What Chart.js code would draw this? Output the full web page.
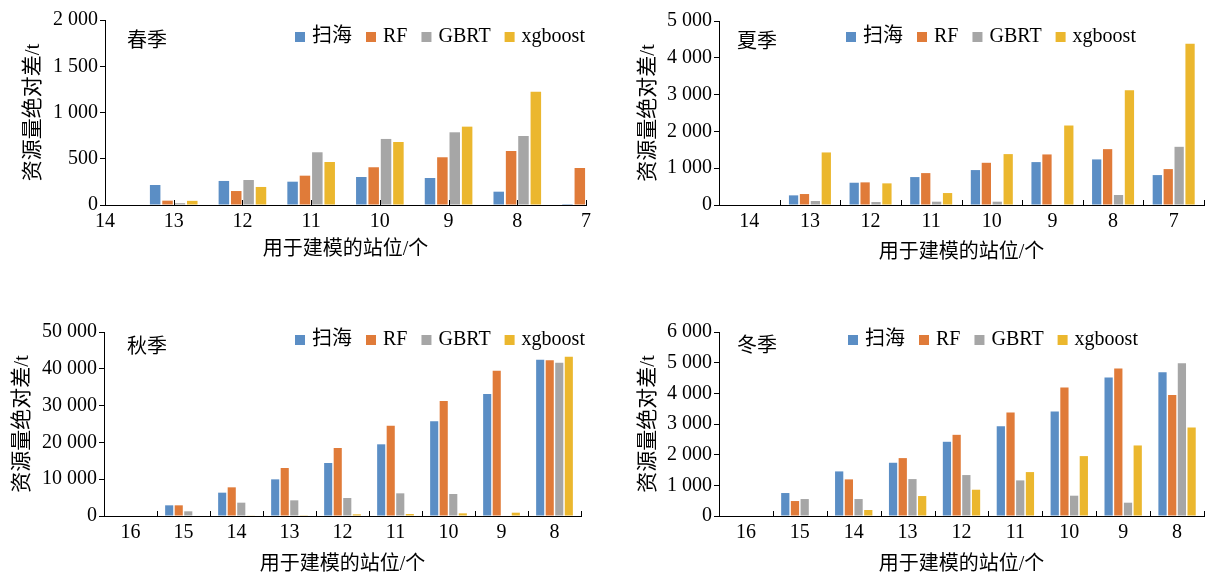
<!DOCTYPE html>
<html>
<head>
<meta charset="utf-8">
<script src="https://cdn.jsdelivr.net/npm/chart.js@4.4.0/dist/chart.umd.min.js"></script>
<style>
body { margin: 0; background: #fff; overflow: hidden; width: 1209px; height: 579px; position: relative; }
canvas { position: absolute; }
</style>
</head>
<body>
<canvas id="cSpring" style="left:0;top:0"></canvas>
<canvas id="cSummer" style="left:610px;top:0"></canvas>
<canvas id="cAutumn" style="left:0;top:310px"></canvas>
<canvas id="cWinter" style="left:610px;top:310px"></canvas>
<script>
// series names + colours
var seriesNames = ['扫海', 'RF', 'GBRT', 'xgboost'];
var colores = ['#5b8ec5', '#e07b39', '#a6a6a6', '#ebb72e'];

// 春季
var springLabels = ['14', '13', '12', '11', '10', '9', '8', '7'];
var springSaohai = [0, 216, 260, 252, 303, 292, 144, 10];
var springRF = [0, 47, 151, 317, 408, 516, 584, 400];
var springGBRT = [0, 20, 270, 570, 714, 786, 746, null];
var springXgb = [0, 45, 195, 465, 681, 847, 1225, null];

// 夏季
var summerLabels = ['14', '13', '12', '11', '10', '9', '8', '7'];
var summerSaohai = [0, 262, 605, 759, 949, 1166, 1239, 813];
var summerRF = [0, 298, 615, 867, 1147, 1374, 1518, 976];
var summerGBRT = [0, 108, 80, 90, 90, 0, 271, 1581];
var summerXgb = [0, 1428, 588, 325, 1383, 2160, 3118, 4383];

// 秋季
var autumnLabels = ['16', '15', '14', '13', '12', '11', '10', '9', '8'];
var autumnSaohai = [0, 2900, 6340, 9960, 14400, 19480, 25720, 33150, 42470];
var autumnRF = [0, 2900, 7790, 13040, 18480, 24540, 31250, 39480, 42300];
var autumnGBRT = [0, 1270, 3620, 4260, 4890, 6160, 5980, 0, 41660];
var autumnXgb = [0, 0, 100, 200, 460, 540, 720, 900, 43290];

// 冬季
var winterLabels = ['16', '15', '14', '13', '12', '11', '10', '9', '8'];
var winterSaohai = [0, 749, 1454, 1736, 2420, 2930, 3407, 4514, 4687];
var winterRF = [0, 488, 1194, 1888, 2647, 3375, 4189, 4807, 3949];
var winterGBRT = [0, 553, 553, 1204, 1335, 1161, 662, 434, 4980];
var winterXgb = [0, 0, 195, 651, 857, 1432, 1953, 2300, 2887];

var fuenteSerif = '"Liberation Serif", "Noto Sans CJK SC", serif';

// inward x ticks, legend and season label
var extras = {
    id: 'extras',
    afterDraw: function(chart) {
        var o = chart.options.plugins.extras;
        var ctx = chart.ctx, a = chart.chartArea, xs = chart.scales.x;
        var n = xs.getLabels().length;
        ctx.save();
        ctx.strokeStyle = '#000';
        ctx.lineWidth = 1;
        ctx.beginPath();
        var cuantos = o.offset ? n + 1 : n;
        for (var i = 0; i < cuantos; i++) {
            var v = o.offset ? i - 0.5 : i;
            var px = Math.round(xs.getPixelForValue(v)) + 0.5;
            ctx.moveTo(px, a.bottom);
            ctx.lineTo(px, a.bottom - 5);
        }
        ctx.stroke();

        ctx.font = '20px ' + fuenteSerif;
        ctx.textBaseline = 'middle';
        ctx.textAlign = 'left';
        var x = a.left + o.legendX, y = a.top + o.legendY;
        chart.data.datasets.forEach(function(ds) {
            ctx.fillStyle = ds.backgroundColor;
            ctx.fillRect(x, y - 5, 10, 10);
            x += 10 + 7;
            ctx.fillStyle = '#000';
            ctx.fillText(ds.label, x, y);
            x += ctx.measureText(ds.label).width + 14;
        });
        ctx.fillText(o.season, a.left + o.seasonX, a.top + o.seasonY);
        ctx.restore();
    }
};

function formato(v) {
    return String(v).replace(/\B(?=(\d{3})+(?!\d))/g, ' ');
}

function graficar(id, labels, valores, cfg) {
    var canvas = document.getElementById(id);
    canvas.width = cfg.w;
    canvas.height = cfg.h;
    var datasets = [];
    for (var i = 0; i < valores.length; i++) {
        datasets.push({
            label: seriesNames[i],
            data: valores[i],
            backgroundColor: colores[i],
            categoryPercentage: 0.72,
            barPercentage: 0.85,
            clip: 0
        });
    }
    return new Chart(canvas.getContext('2d'), {
        type: 'bar',
        data: { labels: labels, datasets: datasets },
        options: {
            responsive: false,
            animation: false,
            layout: { padding: { top: cfg.padTop, right: cfg.padRight, left: 0, bottom: 0 } },
            plugins: {
                legend: { display: false },
                tooltip: { enabled: false },
                extras: cfg.extras
            },
            scales: {
                x: {
                    offset: cfg.extras.offset,
                    grid: { display: false, drawTicks: false, offset: cfg.extras.offset },
                    border: { display: true, color: '#000', width: 1 },
                    ticks: { color: '#000', padding: 5, maxRotation: 0, autoSkip: false, font: { family: fuenteSerif, size: 20 } },
                    title: { display: true, text: '用于建模的站位/个', color: '#000', font: { family: fuenteSerif, size: 20 }, padding: { top: 0, bottom: cfg.xTitlePad } },
                    afterFit: function(s) { s.height = cfg.xHeight; }
                },
                y: {
                    min: 0,
                    max: cfg.max,
                    grid: { drawOnChartArea: false, drawTicks: true, tickLength: 5, color: '#000' },
                    border: { display: true, color: '#000', width: 1 },
                    ticks: { stepSize: cfg.step, color: '#000', padding: 2, font: { family: fuenteSerif, size: 20 }, callback: function(v) { return formato(v); } },
                    title: { display: true, text: '资源量绝对差/t', color: '#000', font: { family: fuenteSerif, size: 21 }, padding: { top: cfg.yTitlePad, bottom: 0 } },
                    afterFit: function(s) { s.width = cfg.yWidth; }
                }
            }
        },
        plugins: [extras]
    });
}

graficar('cSpring', springLabels, [springSaohai, springRF, springGBRT, springXgb], {
    w: 600, h: 270, padTop: 20, padRight: 14, yWidth: 105, xHeight: 65, max: 2000, step: 500,
    yTitlePad: 21, xTitlePad: 8,
    extras: { offset: false, legendX: 190, legendY: 17, season: '春季', seasonX: 22, seasonY: 22 }
});
graficar('cSummer', summerLabels, [summerSaohai, summerRF, summerGBRT, summerXgb], {
    w: 599, h: 270, padTop: 21, padRight: 5, yWidth: 109, xHeight: 65, max: 5000, step: 1000,
    yTitlePad: 26, xTitlePad: 5,
    extras: { offset: true, legendX: 127, legendY: 16, season: '夏季', seasonX: 18, seasonY: 22 }
});
graficar('cAutumn', autumnLabels, [autumnSaohai, autumnRF, autumnGBRT, autumnXgb], {
    w: 600, h: 269, padTop: 22, padRight: 19, yWidth: 104, xHeight: 63, max: 50000, step: 10000,
    yTitlePad: 10, xTitlePad: 2,
    extras: { offset: true, legendX: 191, legendY: 8, season: '秋季', seasonX: 23, seasonY: 16 }
});
graficar('cWinter', winterLabels, [winterSaohai, winterRF, winterGBRT, winterXgb], {
    w: 599, h: 269, padTop: 22, padRight: 5, yWidth: 109, xHeight: 63, max: 6000, step: 1000,
    yTitlePad: 26, xTitlePad: 2,
    extras: { offset: true, legendX: 129, legendY: 8, season: '冬季', seasonX: 18, seasonY: 15 }
});
</script>
</body>
</html>
